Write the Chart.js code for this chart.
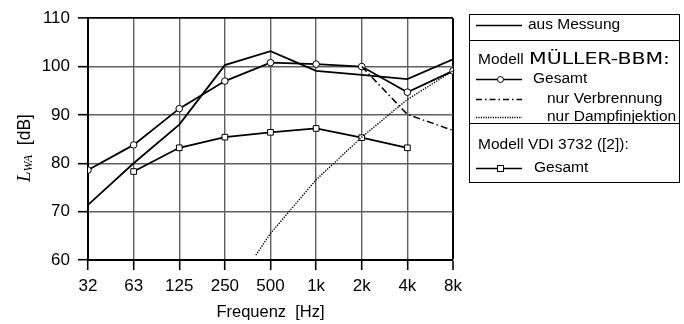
<!DOCTYPE html>
<html>
<head>
<meta charset="utf-8">
<script src="https://cdn.jsdelivr.net/npm/chart.js@4/dist/chart.umd.min.js"></script>
<style>
html,body{margin:0;padding:0;background:#fff;}
#wrap{width:684px;height:324px;position:relative;}
</style>
</head>
<body>
<div id="wrap"><canvas id="c" width="684" height="324"></canvas></div>
<script>
// ---- data ----
const categories = ['32', '63', '125', '250', '500', '1k', '2k', '4k', '8k'];
const bandFreqs = [31.25, 62.5, 125, 250, 500, 1000, 2000, 4000, 8000];
const yTicks = [60, 70, 80, 90, 100, 110];

const messung       = [71.4, 80.0, 88.0, 100.3, 103.2, 99.1, 98.3, 97.4, 101.5];
const muellerGesamt = [78.6, 83.8, 91.3, 97.0, 100.8, 100.5, 100.0, 94.7, 99.1];
const vdiGesamt     = [null, 78.3, 83.2, 85.4, 86.4, 87.2, 85.3, 83.2, null];

const verbrennungFreqs  = [2000, 4000, 8000];
const verbrennungValues = [100.0, 90.1, 86.8];

const dampfFreqs  = [400, 500, 1000, 2000, 4000, 8000];
const dampfValues = [61.0, 65.5, 76.6, 85.4, 93.2, 99.1];

// octave position on the x axis
const oct = f => Math.log2(f / bandFreqs[0]);
const pts = (freqs, vals) => freqs.map((f, i) => ({x: oct(f), y: vals[i]})).filter(p => p.y !== null);

const SANS = '"Liberation Sans", Arial, Helvetica, sans-serif';

const extras = {
  id: 'extras',
  afterDraw(chart) {
    const ctx = chart.ctx;
    const ca = chart.chartArea;
    ctx.save();
    // x title
    ctx.fillStyle = '#000';
    ctx.font = '16.5px ' + SANS;
    ctx.textAlign = 'center';
    ctx.textBaseline = 'middle';
    ctx.fillText('Frequenz  [Hz]', (ca.left + ca.right) / 2, 312);

    // y title (rotated) L_WA [dB]
    ctx.save();
    ctx.translate(25, 148);
    ctx.rotate(-Math.PI / 2);
    ctx.textAlign = 'left';
    ctx.textBaseline = 'middle';
    const fL = 'italic 19px "Liberation Serif", "Times New Roman", serif';
    const fS = 'italic 12px "Liberation Serif", "Times New Roman", serif';
    const fD = '17.5px ' + SANS;
    ctx.font = fL; const wL = ctx.measureText('L').width;
    ctx.font = fS; const wS = ctx.measureText('WA').width;
    ctx.font = fD; const wD = ctx.measureText('  [dB]').width;
    let x0 = -(wL + wS + wD) / 2;
    ctx.font = fL; ctx.fillText('L', x0, 0); x0 += wL;
    ctx.font = fS; ctx.fillText('WA', x0, 4); x0 += wS;
    ctx.font = fD; ctx.fillText('  [dB]', x0, 0);
    ctx.restore();

    // legend box
    ctx.strokeStyle = '#000';
    ctx.lineWidth = 1;
    ctx.strokeRect(469.5, 14.5, 210, 168);
    ctx.beginPath();
    ctx.moveTo(469.5, 40.5); ctx.lineTo(679.5, 40.5);
    ctx.moveTo(469.5, 123.5); ctx.lineTo(679.5, 123.5);
    ctx.stroke();

    const sample = (y, dash, lw) => {
      ctx.save();
      ctx.setLineDash(dash);
      ctx.lineWidth = lw;
      ctx.beginPath();
      ctx.moveTo(476, y); ctx.lineTo(522, y);
      ctx.stroke();
      ctx.restore();
    };
    sample(25.5, [], 1.6);
    sample(79.5, [], 1.6);
    sample(99.5, [6, 3, 1.5, 3], 1.3);
    sample(117.5, [1.2, 1.2], 1.3);
    sample(168.5, [], 1.6);
    // markers
    ctx.fillStyle = '#fff';
    ctx.lineWidth = 1;
    ctx.beginPath(); ctx.arc(500.5, 79.5, 3, 0, Math.PI * 2); ctx.fill(); ctx.stroke();
    ctx.fillRect(497, 165, 7, 7); ctx.strokeRect(497.5, 165.5, 6, 6);

    ctx.fillStyle = '#000';
    ctx.textAlign = 'left';
    ctx.textBaseline = 'middle';
    ctx.font = '15.5px ' + SANS;
    ctx.fillText('aus Messung', 528, 25);
    ctx.fillText('Modell', 478, 60);
    ctx.fillText('Gesamt', 533, 79);
    ctx.fillText('nur Verbrennung', 547, 99);
    ctx.fillText('nur Dampfinjektion', 547, 117);
    ctx.fillText('Modell VDI 3732 ([2]):', 478, 145);
    ctx.fillText('Gesamt', 534, 168);
    // wide MÜLLER-BBM:
    ctx.save();
    ctx.font = '15.5px "DejaVu Sans", sans-serif';
    const wm = ctx.measureText('MÜLLER-BBM:').width;
    ctx.translate(529, 60);
    ctx.scale(141 / wm, 1);
    ctx.fillText('MÜLLER-BBM:', 0, 0);
    ctx.restore();

    ctx.restore();
  }
};

const lineBase = {
  borderColor: '#000',
  borderWidth: 1.8,
  pointBackgroundColor: '#fff',
  pointBorderColor: '#000',
  pointBorderWidth: 1,
  tension: 0,
  fill: false,
  spanGaps: false
};

new Chart(document.getElementById('c'), {
  type: 'line',
  data: {
    datasets: [
      Object.assign({}, lineBase, {label: 'nur Dampfinjektion', data: pts(dampfFreqs, dampfValues), borderDash: [1.3, 1.3], borderWidth: 1.4, pointRadius: 0}),
      Object.assign({}, lineBase, {label: 'nur Verbrennung', data: pts(verbrennungFreqs, verbrennungValues), borderDash: [7, 3, 1.5, 3], borderWidth: 1.5, pointRadius: 0}),
      Object.assign({}, lineBase, {label: 'aus Messung', data: pts(bandFreqs, messung), pointRadius: 0}),
      Object.assign({}, lineBase, {label: 'VDI Gesamt', data: pts(bandFreqs, vdiGesamt), pointStyle: 'rect', pointRadius: 4}),
      Object.assign({}, lineBase, {label: 'MÜLLER-BBM Gesamt', data: pts(bandFreqs, muellerGesamt), pointStyle: 'circle', pointRadius: 3.3})
    ]
  },
  options: {
    responsive: false,
    animation: false,
    events: [],
    layout: {padding: {left: 0, right: 231, top: 14, bottom: 0}},
    plugins: {legend: {display: false}, tooltip: {enabled: false}},
    scales: {
      x: {
        type: 'linear',
        min: 0, max: 8,
        afterBuildTicks: s => { s.ticks = categories.map((c, i) => ({value: i})); },
        afterFit: s => { s.height = 64; },
        ticks: {
          callback: v => categories[v],
          color: '#000',
          font: {family: SANS, size: 17},
          padding: 6,
          maxRotation: 0,
          autoSkip: false
        },
        grid: {
          color: ctx => (ctx.index === 8 ? '#000' : '#606060'),
          lineWidth: ctx => (ctx.index === 8 ? 2 : 1.4),
          tickColor: '#000',
          tickLength: 10,
          tickWidth: 1.6
        },
        border: {color: '#000', width: 2}
      },
      y: {
        min: 60, max: 110,
        afterBuildTicks: s => { s.ticks = yTicks.map(v => ({value: v})); },
        afterFit: s => { s.width = 88; },
        ticks: {
          color: '#000',
          font: {family: SANS, size: 17},
          padding: 8
        },
        grid: {
          color: ctx => (ctx.tick && ctx.tick.value === 110 ? '#000' : '#606060'),
          lineWidth: ctx => (ctx.tick && ctx.tick.value === 110 ? 1.8 : 1.4),
          tickColor: '#000',
          tickLength: 10,
          tickWidth: 1.6
        },
        border: {color: '#000', width: 2}
      }
    }
  },
  plugins: [extras]
});
</script>
</body>
</html>
